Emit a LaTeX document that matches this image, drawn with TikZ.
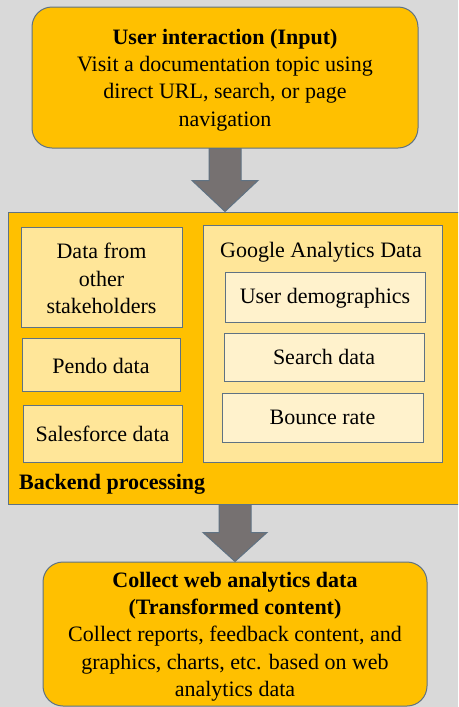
\documentclass[tikz,border=0pt]{standalone}
\usepackage{fontspec}
\setmainfont{Liberation Serif}
\usetikzlibrary{calc}
\definecolor{bg}{HTML}{D9D9D9}
\definecolor{gold}{HTML}{FFC000}
\definecolor{lgold}{HTML}{FFE699}
\definecolor{pale}{HTML}{FFF2CC}
\definecolor{edge}{HTML}{5F7283}
\definecolor{arrowgrey}{HTML}{767171}
\begin{document}
\begin{tikzpicture}[x=1pt,y=-1pt,
 every node/.style={font=\fontsize{22}{27.3}\selectfont, align=center, inner sep=0pt},
 outerbox/.style={draw=edge, line width=1pt, fill=gold, rounded corners=20pt},
 panel/.style={draw=edge, line width=1pt, fill=gold},
 srcbox/.style={draw=edge, line width=1pt, fill=lgold},
 gabox/.style={draw=edge, line width=1pt, fill=pale},
 blockarrow/.style={draw=edge, line width=1pt, fill=arrowgrey, line join=miter}]
\useasboundingbox (0,0) rectangle (458,707);
\clip (0,0) rectangle (458,707);
\fill[bg] (0,0) rectangle (458,707);

\node[outerbox, minimum width=386pt, minimum height=141pt] (top) at (225,77.5) {};
\node (toptext) at ($(top.center)+(0,2.5)$)
 {\textbf{User interaction (Input)}\\Visit a documentation topic using\\direct URL, search, or page\\navigation};

\node[panel, minimum width=462pt, minimum height=292pt] (back) at (239,358) {};
\node[anchor=west, font=\fontsize{22}{27}\selectfont\bfseries] (backlabel) at (19,484) {Backend processing};

\node[srcbox, minimum width=161pt, minimum height=100pt] (other) at (101.5,277) {};
\node (othertext) at ($(other.center)+(0,1.5)$) {Data from\\other\\stakeholders};
\node[srcbox, minimum width=158pt, minimum height=53pt] (pendo) at (101,364.5) {};
\node (pendotext) at ($(pendo.center)+(0,1.5)$) {Pendo data};
\node[srcbox, minimum width=159pt, minimum height=57pt] (sales) at (102.5,433.5) {Salesforce data};

\node[srcbox, minimum width=239pt, minimum height=237pt] (ga) at (322.5,343.5) {};
\node (gatitle) at (321,252.5) {Google Analytics Data};
\node[gabox, minimum width=200pt, minimum height=50pt] (demo) at (325,297) {};
\node (demotext) at ($(demo.center)+(0,1.5)$) {User demographics};
\node[gabox, minimum width=200pt, minimum height=48pt] (search) at (324,357) {Search data};
\node[gabox, minimum width=201pt, minimum height=49pt] (bounce) at (322.5,417.5) {Bounce rate};

\node[outerbox, minimum width=384pt, minimum height=144pt] (bottom) at (235,634) {};
\node (bottomtext) at ($(bottom.center)+(0,2.5)$)
 {\textbf{Collect web analytics data}\\\textbf{(Transformed content)}\\Collect reports, feedback content, and\\graphics, charts, etc. based on web\\analytics data};

\coordinate (a1top) at (top.south);
\coordinate (a1tip) at (a1top |- back.north);
\draw[blockarrow] ($(a1top)+(-16,0)$) -- ($(a1top)+(16,0)$) -- ($(a1tip)+(16,-31)$)
 -- ($(a1tip)+(33,-31)$) -- (a1tip) -- ($(a1tip)+(-33,-31)$) -- ($(a1tip)+(-16,-31)$) -- cycle;

\coordinate (a2top) at (bottom.north |- back.south);
\coordinate (a2tip) at (bottom.north);
\draw[blockarrow] ($(a2top)+(-16,0)$) -- ($(a2top)+(16,0)$) -- ($(a2tip)+(16,-29)$)
 -- ($(a2tip)+(32,-29)$) -- (a2tip) -- ($(a2tip)+(-32,-29)$) -- ($(a2tip)+(-16,-29)$) -- cycle;
\end{tikzpicture}
\end{document}
